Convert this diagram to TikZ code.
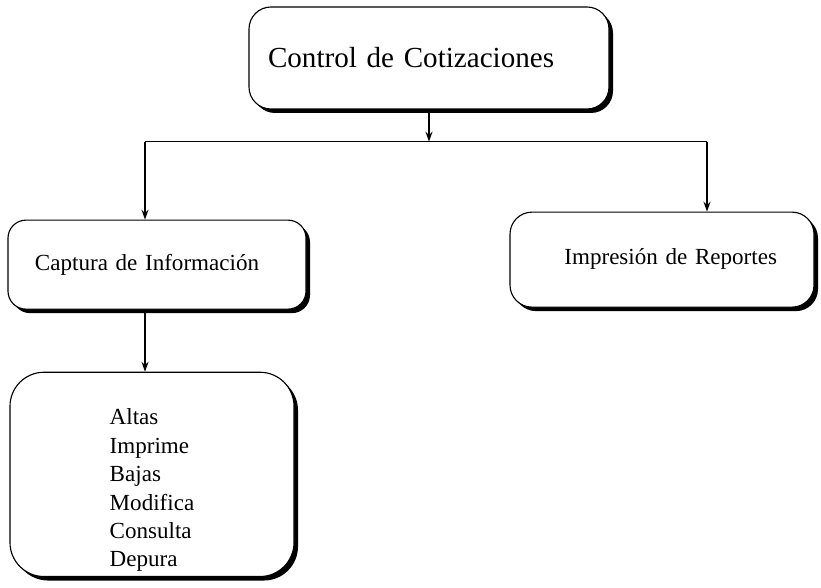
\documentclass[tikz,border=0pt]{standalone}
\usepackage{fontspec}
\setmainfont{Liberation Serif}
\usetikzlibrary{positioning, shadows, arrows.meta}
\tikzset{
    >={Stealth[length=7pt, width=5pt]}, % small filled arrow heads
    box/.style={draw, fill=white, line width=0.8pt, drop shadow={shadow xshift=0.1cm, shadow yshift=-0.1cm, fill=black, opacity=1}}, % rounded boxes with a dark lower right edge
    link/.style={->, line width=1pt}
}

\begin{document}
\begin{tikzpicture}[every node/.style={font=\fontsize{16.4}{20.2}\selectfont}]

    \useasboundingbox (0,0) rectangle (20.525,-14.7);

    \node[box, rounded corners=0.55cm, font=\fontsize{20.7}{24}\selectfont, align=left, text width=8.05cm, inner xsep=0.475cm, minimum height=2.55cm] (ctrl) at (10.725,-1.45) {Control de Cotizaciones};
    \node[box, rounded corners=0.45cm, align=left, text width=6.1cm, inner xsep=0.675cm, minimum height=2.225cm, below=2.75cm of ctrl, xshift=-6.8cm] (cap) {Captura de Información};
    \node[box, rounded corners=0.55cm, align=right, text width=5.75cm, inner xsep=0.925cm, minimum height=2.375cm, below=2.55cm of ctrl, xshift=5.825cm] (rep) {\raisebox{0.15cm}{Impresión de Reportes}};
    \node[box, rounded corners=0.85cm, align=left, minimum width=7.1cm, minimum height=5.1cm, below=1.55cm of cap, xshift=-0.125cm] (ops) {\rule{0pt}{1.2cm}Altas\\Imprime\\Bajas\\Modifica\\Consulta\\Depura};

    \coordinate[above=1.95cm of cap.north, xshift=-0.3cm] (jl);
    \coordinate[above=1.75cm of rep.north, xshift=1.125cm] (jr);

    \draw[link] (ctrl) -- (ctrl.south |- jl);
    \draw[line width=1pt] (jl) -- (jr);
    \draw[link] (jl) -- (jl |- cap.north);
    \draw[link] (jr) -- (jr |- rep.north);
    \draw[link] (jl |- cap.south) -- (jl |- ops.north);

\end{tikzpicture}
\end{document}
